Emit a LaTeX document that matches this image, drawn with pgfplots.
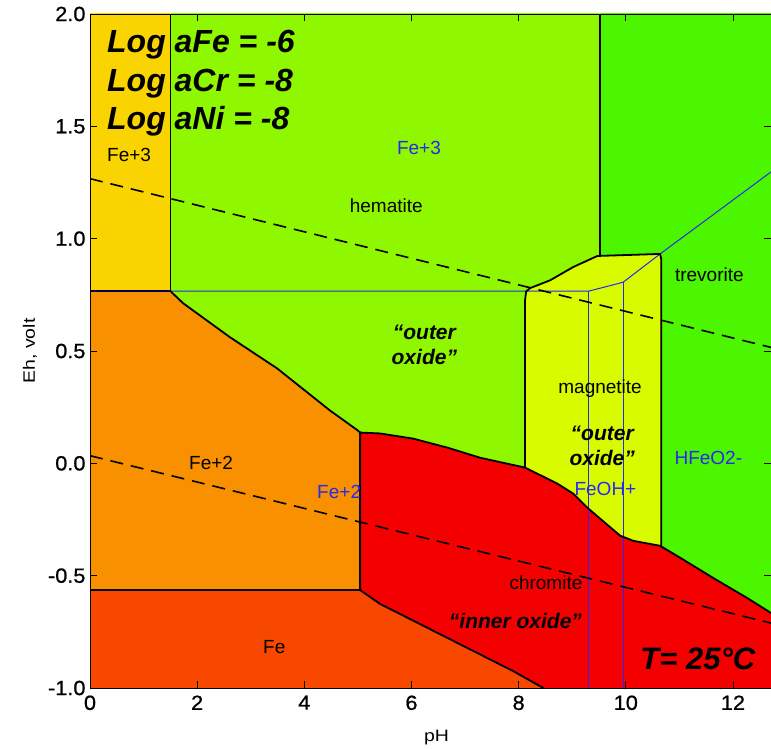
\documentclass[border=0pt]{standalone}
\usepackage{pgfplots}
\pgfplotsset{compat=1.18}
\usepackage{fontspec}
\setmainfont{Liberation Sans}
\newfontfamily\tickfont[FakeStretch=1.06, FakeBold=0.8]{Liberation Sans}
\newfontfamily\labfont[FakeStretch=1.18]{Liberation Sans}
\definecolor{cfe3}{RGB}{250,212,0}
\definecolor{chem}{RGB}{143,248,0}
\definecolor{ctrev}{RGB}{76,245,0}
\definecolor{cmag}{RGB}{216,251,0}
\definecolor{cfe2}{RGB}{249,144,0}
\definecolor{cfe}{RGB}{248,72,0}
\definecolor{cred}{RGB}{245,0,0}
\definecolor{cblue}{RGB}{40,40,240}
\begin{document}
\begin{tikzpicture}
\begin{axis}[
  at={(0,0)}, anchor=south west,
  scale only axis, width=681pt, height=674pt,
  xmin=0, xmax=12.71, ymin=-1, ymax=2,
  xtick={0,2,4,6,8,10,12},
  ytick={-1,-0.5,0,0.5,1,1.5,2},
  yticklabels={-1.0,-0.5,0.0,0.5,1.0,1.5,2.0},
  xticklabels={0,2,4,6,8,10,12},
  tick align=inside, major tick length=7pt,
  axis on top,
  axis line style={black, line width=0.6pt},
  tick style={black, line width=0.8pt},
  tick label style={font=\tickfont\fontsize{20.5}{20.5}\selectfont},
  xticklabel style={yshift=-4pt},
  yticklabel style={xshift=-1pt},
  xlabel={pH}, ylabel={Eh, volt},
  label style={font=\labfont\fontsize{16.5}{16.5}\selectfont},
  xlabel style={at={(axis description cs:0.5,0)}, anchor=center, yshift=-50pt, xshift=6pt},
  ylabel style={at={(axis description cs:0,0.5)}, anchor=center, yshift=60pt},
]
% background: trevorite
\addplot[draw=none, fill=ctrev] coordinates {(-1,-2) (14,-2) (14,3) (-1,3)};
% hematite
\addplot[draw=none, fill=chem] coordinates {(1.503,2.1) (9.52,2.1) (9.52,0.924) (9.02,0.874) (8.59,0.815) (8.215,0.78) (8.12,0.726) (8.12,-1.1) (1.503,-1.1)};
% Fe+3
\addplot[draw=none, fill=cfe3] coordinates {(-0.1,0.766) (1.503,0.766) (1.503,2.1) (-0.1,2.1)};
% Fe+2
\addplot[draw=none, fill=cfe2] coordinates {(-0.1,0.766) (1.503,0.766) (1.736,0.713) (2.614,0.561) (3.49,0.423) (4.48,0.235) (5.00,0.146) (5.041,0.137) (5.041,-0.564) (-0.1,-0.564)};
% Fe
\addplot[draw=none, fill=cfe] coordinates {(-0.1,-0.564) (5.041,-0.564) (5.414,-0.626) (5.79,-0.671) (6.72,-0.783) (7.90,-0.925) (8.46,-1.0) (8.5,-1.1) (-0.1,-1.1)};
% chromite (red)
\addplot[draw=none, fill=cred] coordinates {(5.041,0.137) (5.414,0.133) (6.03,0.110) (6.67,0.070) (7.28,0.025) (8.12,-0.019) (8.72,-0.090) (9.02,-0.135) (9.28,-0.197) (9.52,-0.246) (9.895,-0.322) (10.14,-0.345) (10.64,-0.367) (11.02,-0.421) (11.63,-0.510) (12.27,-0.600) (12.71,-0.666) (13,-0.7) (13,-1.1) (8.5,-1.1) (8.46,-1.0) (7.90,-0.925) (6.72,-0.783) (5.79,-0.671) (5.414,-0.626) (5.041,-0.564)};
% magnetite
\addplot[draw=none, fill=cmag] coordinates {(8.12,-0.019) (8.12,0.726) (8.14,0.765) (8.215,0.78) (8.59,0.815) (9.02,0.874) (9.47,0.923) (10.64,0.932) (10.66,0.91) (10.66,-0.367) (10.64,-0.367) (10.14,-0.345) (9.895,-0.322) (9.52,-0.246) (9.28,-0.197) (9.02,-0.135) (8.72,-0.090) (8.12,-0.019)};
% blue lines
\addplot[cblue, line width=1pt] coordinates {(1.503,0.766) (9.30,0.766) (9.95,0.806) (10.64,0.932) (12.71,1.297)};
\addplot[cblue, line width=1pt] coordinates {(9.30,0.766) (9.30,-1)};
\addplot[cblue, line width=1pt] coordinates {(9.95,0.806) (9.95,-1)};
% black boundaries
\addplot[black, line width=1.8pt] coordinates {(1.503,2) (1.503,0.766)};
\addplot[black!70!blue, line width=1.8pt] coordinates {(0,0.766) (1.503,0.766)};
\addplot[black, line width=1.8pt, line join=round] coordinates {(1.503,0.766) (1.736,0.713) (2.614,0.561) (3.49,0.423) (4.48,0.235) (5.00,0.146) (5.041,0.137) (5.041,-0.564) (0,-0.564)};
\addplot[black, line width=1.8pt, line join=round] coordinates {(5.041,-0.564) (5.414,-0.626) (5.79,-0.671) (6.72,-0.783) (7.90,-0.925) (8.46,-1.0)};
\addplot[black, line width=1.8pt, line join=round] coordinates {(5.041,0.137) (5.414,0.133) (6.03,0.110) (6.67,0.070) (7.28,0.025) (8.12,-0.019) (8.72,-0.090) (9.02,-0.135) (9.28,-0.197) (9.52,-0.246) (9.895,-0.322) (10.14,-0.345) (10.64,-0.367) (11.02,-0.421) (11.63,-0.510) (12.27,-0.600) (12.71,-0.666)};
\addplot[black, line width=1.8pt] coordinates {(9.52,2) (9.52,0.924)};
\addplot[black, line width=1.8pt, line join=round] coordinates {(8.12,-0.019) (8.12,0.726) (8.14,0.765) (8.215,0.78) (8.59,0.815) (9.02,0.874) (9.47,0.923) (10.64,0.932) (10.66,0.91) (10.66,-0.367)};
% water lines
\addplot[black, line width=1.6pt, dash pattern=on 13pt off 8pt] coordinates {(0,1.267) (12.71,0.516)};
\addplot[black, line width=1.6pt, dash pattern=on 13pt off 8pt] coordinates {(0,0.034) (12.71,-0.711)};
% texts
\begin{scope}[every node/.style={font=\fontsize{32}{32}\selectfont\bfseries\itshape, anchor=base west, inner sep=0pt}]
\node at (axis cs:0.317,1.829) {Log aFe = -6};
\node at (axis cs:0.317,1.655) {Log aCr = -8};
\node at (axis cs:0.317,1.485) {Log aNi = -8};
\node[font=\fontsize{31}{31}\selectfont\bfseries\itshape] at (axis cs:10.27,-0.917) {T= 25°C};
\end{scope}
\begin{scope}[every node/.style={font=\fontsize{19}{19}\selectfont, inner sep=0pt}]
\node at (axis cs:0.73,1.374) {Fe+3};
\node[text=cblue] at (axis cs:6.14,1.405) {Fe+3};
\node at (axis cs:5.53,1.146) {hematite};
\node at (axis cs:11.56,0.838) {trevorite};
\node at (axis cs:9.52,0.333) {magnetite};
\node[text=cblue] at (axis cs:11.54,0.025) {HFeO2-};
\node[text=cblue] at (axis cs:9.62,-0.113) {FeOH+};
\node at (axis cs:2.26,0.0) {Fe+2};
\node[text=cblue] at (axis cs:4.65,-0.126) {Fe+2};
\node at (axis cs:3.44,-0.818) {Fe};
\node at (axis cs:8.51,-0.533) {chromite};
\end{scope}
\begin{scope}[every node/.style={font=\fontsize{21}{25}\selectfont\bfseries\itshape, inner sep=0pt, align=center}]
\node at (axis cs:6.24,0.525) {“outer\\oxide”};
\node at (axis cs:9.56,0.079) {“outer\\oxide”};
\node at (axis cs:7.94,-0.702) {“inner oxide”};
\end{scope}
\end{axis}
\pgfresetboundingbox
\path[use as bounding box] (-90pt,-60pt) rectangle (681pt,688pt);
\end{tikzpicture}
\end{document}
